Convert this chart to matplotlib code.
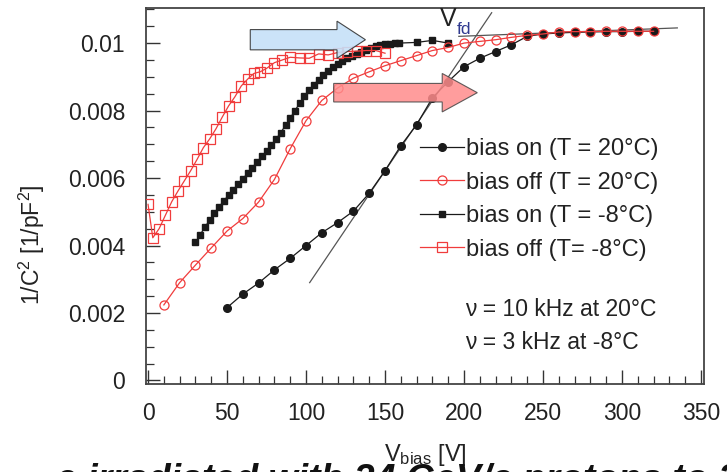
import matplotlib
matplotlib.use('Agg')
import matplotlib.pyplot as plt
from matplotlib.patches import FancyArrow
from matplotlib.ticker import MultipleLocator

plt.rcParams['font.family'] = ['Liberation Sans', 'DejaVu Sans']
plt.rcParams['mathtext.fontset'] = 'custom'
plt.rcParams['mathtext.rm'] = 'Liberation Sans'
plt.rcParams['mathtext.it'] = 'Liberation Sans:italic'

# ---------------- data ----------------
v_on20 = [50, 60, 70, 80, 90, 100, 110, 120, 130, 140, 150, 160, 170, 180, 190,
          200, 210, 220, 230, 240, 250, 260, 270, 280, 290, 300, 310, 320]
c_on20 = [0.00216, 0.00256, 0.00289, 0.00328, 0.00362, 0.00400, 0.00438, 0.00468,
          0.00502, 0.00555, 0.00622, 0.00696, 0.00758, 0.00838, 0.00886, 0.00930,
          0.00955, 0.00975, 0.00995, 0.01020, 0.01027, 0.01030, 0.01032, 0.01033,
          0.01034, 0.01034, 0.01035, 0.01035]

v_off20 = [10, 20, 30, 40, 50, 60, 70, 80, 90, 100, 110, 120, 130, 140, 150, 160,
           170, 180, 190, 200, 210, 220, 230, 240, 250, 260, 270, 280, 290, 300, 310, 320]
c_off20 = [0.00224, 0.00290, 0.00342, 0.00393, 0.00443, 0.00480, 0.00529, 0.00596,
           0.00687, 0.00770, 0.00830, 0.00867, 0.00896, 0.00915, 0.00933, 0.00948,
           0.00963, 0.00978, 0.00987, 0.01000, 0.01005, 0.01010, 0.01017, 0.01023,
           0.01027, 0.01033, 0.01034, 0.01034, 0.01035, 0.01035, 0.01035, 0.01035]

v_onm8 = [30, 33, 36, 39, 42, 45, 48, 51, 54, 57, 60, 63, 66, 69, 72, 75, 78, 81,
          84, 87, 90, 93, 96, 99, 102, 105, 108, 111, 114, 117, 120, 123, 126, 129,
          132, 135, 138, 141, 144, 147, 150, 153, 156, 159, 170, 180, 190]
c_onm8 = [0.00410, 0.00432, 0.00455, 0.00475, 0.00497, 0.00515, 0.00532, 0.00550,
          0.00566, 0.00582, 0.00598, 0.00614, 0.00631, 0.00648, 0.00664, 0.00680,
          0.00697, 0.00715, 0.00735, 0.00756, 0.00778, 0.00800, 0.00822, 0.00842,
          0.00860, 0.00877, 0.00892, 0.00906, 0.00918, 0.00928, 0.00938, 0.00947,
          0.00955, 0.00962, 0.00969, 0.00975, 0.00980, 0.00985, 0.00990, 0.00993,
          0.00996, 0.00998, 0.00999, 0.01000, 0.01002, 0.01008, 0.01000]

v_offm8 = [0, 3, 7, 11, 15, 19, 23, 27, 31, 35, 39, 43, 47, 51, 55, 59, 63, 67, 71,
           75, 80, 85, 90, 96, 102, 108, 114, 120, 126, 132, 138, 144, 150]
c_offm8 = [0.00522, 0.00423, 0.00450, 0.00490, 0.00530, 0.00562, 0.00592, 0.00622,
           0.00655, 0.00690, 0.00716, 0.00746, 0.00781, 0.00814, 0.00841, 0.00873,
           0.00893, 0.00910, 0.00915, 0.00925, 0.00942, 0.00950, 0.00958, 0.00956,
           0.00955, 0.00968, 0.00965, 0.00972, 0.00975, 0.00976, 0.00978, 0.00978,
           0.00970]

# tangent lines used to find V_fd
tan1_v = [102.3, 217.5]
tan1_c = [0.00290, 0.01090]
tan2_v = [196.7, 335.0]
tan2_c = [0.01020, 0.01045]

labels = ['bias on (T = 20°C)', 'bias off (T = 20°C)',
          'bias on (T = -8°C)', 'bias off (T= -8°C)']
notes = ['ν = 10 kHz at 20°C', 'ν = 3 kHz at -8°C']
yticks = [0, 0.002, 0.004, 0.006, 0.008, 0.01]
yticklabels = ['0', '0.002', '0.004', '0.006', '0.008', '0.01']
caption = 'e irradiated with 24 GeV/c protons to 2'

RED = '#f03c3c'
BLK = '#1a1a1a'
TXT = '#222222'

fig = plt.figure(figsize=(7.27, 4.72), dpi=100)
ax = fig.add_axes([146/727, 1-384/472, (704-146)/727, (384-8)/472])

# tangent lines
ax.plot(tan1_v, tan1_c, color='#555555', lw=0.9, zorder=2)
ax.plot(tan2_v, tan2_c, color='#555555', lw=0.9, zorder=2)

h1, = ax.plot(v_on20, c_on20, '-o', color=BLK, lw=0.9, ms=5.5, zorder=3)
h2, = ax.plot(v_off20, c_off20, '-o', color=RED, lw=0.9, ms=6.5, mfc='none',
              mec=RED, mew=0.9, zorder=4)
h3, = ax.plot(v_onm8, c_onm8, '-s', color=BLK, lw=0.9, ms=5, zorder=3)
h4, = ax.plot(v_offm8, c_offm8, '-s', color=RED, lw=0.9, ms=6.5, mfc='none',
              mec=RED, mew=0.9, zorder=4)

# arrows
ax.add_patch(FancyArrow(64.7, 0.0101, 72.9, 0, width=0.0006, head_width=0.00110,
                        head_length=18, length_includes_head=True,
                        fc='#c6e0f8', ec='#333333', lw=0.8, alpha=0.9, zorder=5))
ax.add_patch(FancyArrow(117.5, 0.00853, 90.9, 0, width=0.00055, head_width=0.00114,
                        head_length=22.2, length_includes_head=True,
                        fc='#ff8c8c', ec='#444444', lw=0.8, alpha=0.85, zorder=5))

# V_fd label
ax.text(184.5, 0.01051, 'V', fontsize=18, color=TXT, ha='left', va='baseline', zorder=6)
ax.text(195.6, 0.01028, 'fd', fontsize=12.5, color='#303a90', ha='left', va='baseline', zorder=6)

ax.set_xlim(-1.3, 351.9)
ax.set_ylim(-0.000104, 0.01104)

ax.xaxis.set_major_locator(MultipleLocator(50))
ax.xaxis.set_minor_locator(MultipleLocator(10))
ax.yaxis.set_minor_locator(MultipleLocator(0.0005))
ax.set_yticks(yticks)
ax.set_yticklabels(yticklabels)

ax.tick_params(axis='both', which='both', direction='in', colors='#333333',
               labelcolor=TXT, labelsize=16.5, top=False, right=False)
ax.tick_params(axis='y', which='major', length=10, width=1.0, pad=15)
ax.tick_params(axis='x', which='major', length=10, width=1.0, pad=13)
ax.tick_params(axis='both', which='minor', length=6, width=0.9)
for s in ax.spines.values():
    s.set_color('#444444')
    s.set_linewidth(1.3)

ax.set_ylabel('1/C$^2$ [1/pF$^2$]', fontsize=16.5, color=TXT)
ax.yaxis.set_label_coords(-0.178, 0.37)
ax.set_xlabel('V$_{\\rm bias}$ [V]', fontsize=17, color=TXT)
ax.xaxis.set_label_coords(0.5, -0.155)

leg = ax.legend([h1, h2, h3, h4], labels, loc='upper left',
                bbox_to_anchor=((420-146)/558, (384-138)/376), frameon=False,
                fontsize=17, handlelength=1.85, handletextpad=0.1,
                labelspacing=0.49, borderaxespad=0, borderpad=0)
for t in leg.get_texts():
    t.set_color(TXT)

xn = (465-146)/558*353.2-1.3
ax.text(xn, 0.00210, notes[0], fontsize=16.5, color=TXT, ha='left', va='center')
ax.text(xn, 0.00113, notes[1], fontsize=16.5, color=TXT, ha='left', va='center')

# cut-off caption at the bottom (only its top shows, as in the source)
fig.text(56/727, 1-463/472, caption, fontsize=27, fontweight='bold',
         fontstyle='italic', color='#111111', ha='left', va='top')

fig.savefig('out.png', dpi=100)
